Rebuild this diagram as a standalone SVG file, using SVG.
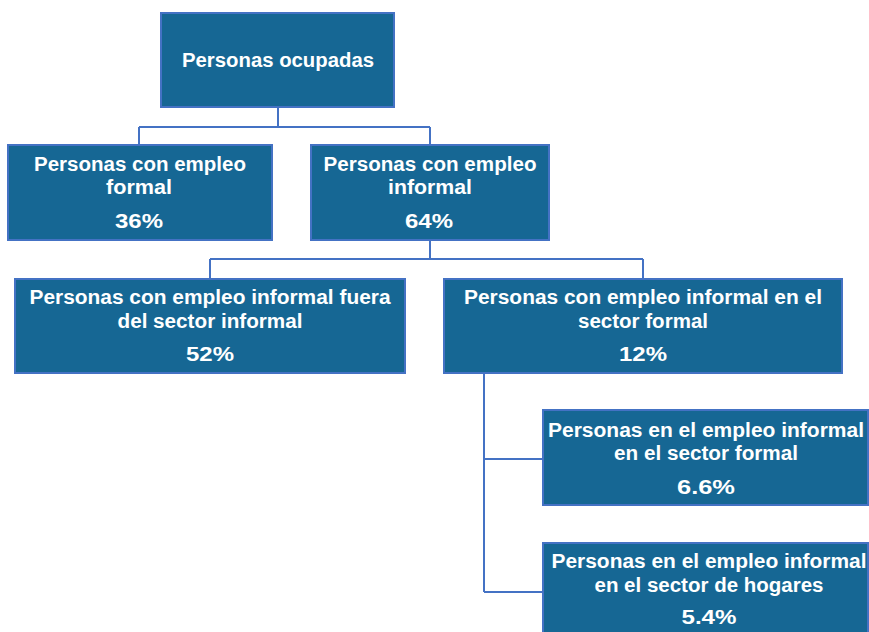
<svg xmlns="http://www.w3.org/2000/svg" width="869" height="632" viewBox="0 0 869 632">
<style>
.box{fill:#166794;stroke:#4472C4;stroke-width:2}
.t{font-family:"Liberation Sans",Arial,sans-serif;font-weight:bold;font-size:19.5px;fill:#ffffff;text-anchor:middle}
.c{fill:none;stroke:#4472C4;stroke-width:2}
</style>
<rect width="869" height="632" fill="#ffffff"/>
<g id="connectors">
<path class="c" d="M278 107V127M139 127H430M139 127V145M430 127V145"/>
<path class="c" d="M430 240V259M210 259H643M210 259V279M643 259V279"/>
<path class="c" d="M484 373V592M484 459H543M484 592H543"/>
</g>
<g id="n-ocupadas">
<rect class="box" x="161" y="13" width="233" height="94"/>
<text class="t" x="278" y="67" textLength="192" lengthAdjust="spacingAndGlyphs">Personas ocupadas</text>
</g>
<g id="n-formal">
<rect class="box" x="8" y="145" width="264" height="95"/>
<text class="t" x="140" y="171" textLength="212" lengthAdjust="spacingAndGlyphs">Personas con empleo</text>
<text class="t" x="139" y="194" textLength="66" lengthAdjust="spacingAndGlyphs">formal</text>
<text class="t" x="139" y="228" textLength="48" lengthAdjust="spacingAndGlyphs">36%</text>
</g>
<g id="n-informal">
<rect class="box" x="311" y="145" width="238" height="95"/>
<text class="t" x="430" y="171" textLength="213" lengthAdjust="spacingAndGlyphs">Personas con empleo</text>
<text class="t" x="430" y="194" textLength="84" lengthAdjust="spacingAndGlyphs">informal</text>
<text class="t" x="429" y="228" textLength="48" lengthAdjust="spacingAndGlyphs">64%</text>
</g>
<g id="n-fuera">
<rect class="box" x="15" y="279" width="390" height="94"/>
<text class="t" x="210" y="304" textLength="361" lengthAdjust="spacingAndGlyphs">Personas con empleo informal fuera</text>
<text class="t" x="210" y="328" textLength="185" lengthAdjust="spacingAndGlyphs">del sector informal</text>
<text class="t" x="210" y="361" textLength="48" lengthAdjust="spacingAndGlyphs">52%</text>
</g>
<g id="n-sector-formal">
<rect class="box" x="444" y="279" width="398" height="94"/>
<text class="t" x="643" y="304" textLength="358" lengthAdjust="spacingAndGlyphs">Personas con empleo informal en el</text>
<text class="t" x="643" y="328" textLength="130" lengthAdjust="spacingAndGlyphs">sector formal</text>
<text class="t" x="643" y="361" textLength="48" lengthAdjust="spacingAndGlyphs">12%</text>
</g>
<g id="n-66">
<rect class="box" x="543" y="410" width="325" height="95"/>
<text class="t" x="706" y="437" textLength="316" lengthAdjust="spacingAndGlyphs">Personas en el empleo informal</text>
<text class="t" x="706" y="460" textLength="184" lengthAdjust="spacingAndGlyphs">en el sector formal</text>
<text class="t" x="706" y="494" textLength="58" lengthAdjust="spacingAndGlyphs">6.6%</text>
</g>
<g id="n-54">
<rect class="box" x="543" y="543" width="325" height="95"/>
<text class="t" x="709" y="568" textLength="315" lengthAdjust="spacingAndGlyphs">Personas en el empleo informal</text>
<text class="t" x="709" y="592" textLength="229" lengthAdjust="spacingAndGlyphs">en el sector de hogares</text>
<text class="t" x="709" y="624" textLength="55" lengthAdjust="spacingAndGlyphs">5.4%</text>
</g>
</svg>
